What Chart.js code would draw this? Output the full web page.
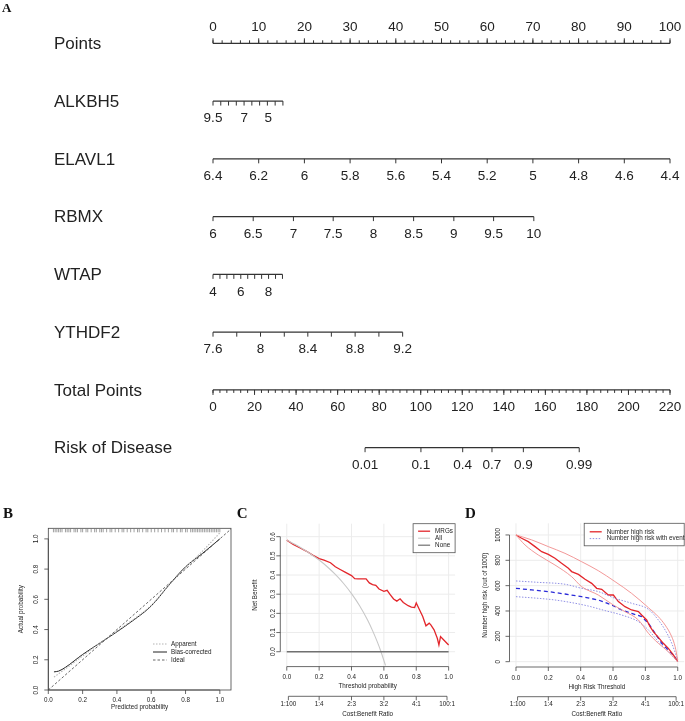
<!DOCTYPE html>
<html lang="en">
<head>
<meta charset="UTF-8">
<title>Nomogram, calibration, decision curve and clinical impact</title>
<script src="https://cdn.jsdelivr.net/npm/chart.js@4.4.0/dist/chart.umd.min.js"></script>
<style>
  body { margin: 0; background: #fff; }
  #wrap { position: relative; width: 685px; height: 721px; overflow: hidden; }
  #wrap canvas { position: absolute; }
</style>
</head>
<body>
<div id="wrap">
  <canvas id="nomo" width="685" height="480" style="left:0px;top:0px"></canvas>
  <canvas id="calib" width="232" height="241" style="left:0px;top:480px"></canvas>
  <canvas id="dca" width="226" height="241" style="left:232px;top:480px"></canvas>
  <canvas id="impact" width="227" height="241" style="left:458px;top:480px"></canvas>
</div>
<script>
// ---------- A: nomogram ----------
const rowNames = ['Points', 'ALKBH5', 'ELAVL1', 'RBMX', 'WTAP', 'YTHDF2', 'Total Points', 'Risk of Disease'];
const pointLabels = [0, 10, 20, 30, 40, 50, 60, 70, 80, 90, 100];
const alkbh5Labels = ['9.5', '7', '5'];
const alkbh5LabelPts = [0, 6.85, 12.1];
const alkbh5TickPts = [0, 1.7, 3.4, 5.1, 6.8, 8.5, 10.2, 11.9, 13.6, 15.3];
const elavl1Labels = ['6.4', '6.2', '6', '5.8', '5.6', '5.4', '5.2', '5', '4.8', '4.6', '4.4'];
const elavl1Pts = [0, 10, 20, 30, 40, 50, 60, 70, 80, 90, 100];
const rbmxLabels = ['6', '6.5', '7', '7.5', '8', '8.5', '9', '9.5', '10'];
const rbmxPts = [0, 8.8, 17.6, 26.3, 35.1, 43.9, 52.7, 61.4, 70.2];
const wtapLabels = ['4', '6', '8'];
const wtapLabelPts = [0, 6.08, 12.16];
const wtapTickPts = [0, 1.52, 3.04, 4.56, 6.08, 7.6, 9.12, 10.64, 12.16, 13.68, 15.2];
const ythdf2Labels = ['7.6', '8', '8.4', '8.8', '9.2'];
const ythdf2LabelPts = [0, 10.4, 20.75, 31.1, 41.5];
const ythdf2TickPts = [0, 5.2, 10.4, 15.6, 20.75, 25.9, 31.1, 36.3, 41.5];
const totalLabels = [0, 20, 40, 60, 80, 100, 120, 140, 160, 180, 200, 220];
const riskLabels = ['0.01', '0.1', '0.4', '0.7', '0.9', '0.99'];
const riskTotalPts = [73.2, 100.1, 120.2, 134.3, 149.4, 176.3];

// ---------- B: calibration ----------
const idealX = [0, 1.07];
const apparentX = [0.033, 0.1, 0.2, 0.3, 0.4, 0.5, 0.6, 0.7, 0.8, 0.9, 1.0];
const apparentY = [0.085, 0.14, 0.225, 0.31, 0.39, 0.47, 0.56, 0.69, 0.81, 0.92, 1.04];
const biasX = [0.033, 0.06, 0.1, 0.2, 0.3, 0.4, 0.5, 0.58, 0.62, 0.7, 0.8, 0.9, 1.0];
const biasY = [0.12, 0.125, 0.15, 0.235, 0.31, 0.385, 0.465, 0.535, 0.58, 0.69, 0.815, 0.905, 1.0];
const rugX = [0.03, 0.04, 0.05, 0.06, 0.07, 0.08, 0.1, 0.11, 0.12, 0.13, 0.15, 0.16, 0.17, 0.19, 0.2, 0.22,
  0.23, 0.25, 0.27, 0.28, 0.3, 0.31, 0.32, 0.34, 0.36, 0.37, 0.39, 0.41, 0.43, 0.44, 0.46, 0.48, 0.5,
  0.52, 0.53, 0.55, 0.57, 0.58, 0.6, 0.62, 0.64, 0.66, 0.68, 0.7, 0.72, 0.73, 0.75, 0.77, 0.78, 0.8,
  0.81, 0.83, 0.84, 0.85, 0.86, 0.87, 0.88, 0.89, 0.9, 0.91, 0.92, 0.93, 0.94, 0.95, 0.96, 0.97, 0.98, 0.99, 1.0];
const probTicks = [0, 0.2, 0.4, 0.6, 0.8, 1.0];
const probLabels = ['0.0', '0.2', '0.4', '0.6', '0.8', '1.0'];

// ---------- C: decision curve ----------
const dcaX = [0, 0.04, 0.08, 0.12, 0.16, 0.20, 0.23, 0.27, 0.30, 0.33, 0.36, 0.40, 0.42, 0.44, 0.49, 0.51,
  0.53, 0.55, 0.57, 0.60, 0.62, 0.64, 0.66, 0.68, 0.70, 0.72, 0.75, 0.77, 0.79, 0.80, 0.82, 0.84, 0.86,
  0.88, 0.89, 0.91, 0.93, 0.94, 0.95, 0.97, 1.00];
const mrgNB = [0.582, 0.560, 0.542, 0.525, 0.504, 0.486, 0.478, 0.464, 0.443, 0.429, 0.415, 0.397, 0.381,
  0.380, 0.380, 0.359, 0.350, 0.346, 0.327, 0.315, 0.320, 0.297, 0.275, 0.264, 0.276, 0.257, 0.240, 0.233,
  0.231, 0.254, 0.219, 0.184, 0.135, 0.149, 0.140, 0.114, 0.070, 0.035, 0.079, 0.061, 0.035];
const allX = [0, 0.05, 0.1, 0.15, 0.2, 0.25, 0.3, 0.35, 0.4, 0.45, 0.5, 0.53, 0.56, 0.58, 0.61];
const allNB = [0.582, 0.560, 0.536, 0.508, 0.478, 0.443, 0.403, 0.357, 0.303, 0.240, 0.164, 0.110, 0.050, 0.005, -0.072];
const noneX = [0, 1];
const noneNB = [0, 0];
const nbTicks = [0, 0.1, 0.2, 0.3, 0.4, 0.5, 0.6];
const nbLabels = ['0.0', '0.1', '0.2', '0.3', '0.4', '0.5', '0.6'];
const costLabels = ['1:100', '1:4', '2:3', '3:2', '4:1', '100:1'];
const costAt = [0.0099, 0.2, 0.4, 0.6, 0.8, 0.99];

// ---------- D: clinical impact ----------
const redX = [0, 0.035, 0.076, 0.118, 0.159, 0.2, 0.241, 0.282, 0.324, 0.344, 0.386, 0.427, 0.468, 0.499, 0.53,
  0.571, 0.602, 0.633, 0.674, 0.715, 0.757, 0.777, 0.808, 0.829, 0.849, 0.88, 0.911, 0.942, 0.973, 1];
const redY = [1000, 974, 947, 908, 868, 847, 816, 776, 737, 711, 689, 650, 618, 579, 571,
  526, 526, 474, 434, 408, 395, 368, 329, 276, 237, 192, 145, 105, 53, 0];
const redHiX = [0, 0.097, 0.2, 0.303, 0.406, 0.509, 0.612, 0.715, 0.819, 0.88, 0.922, 0.963, 0.984, 1];
const redHiY = [1000, 961, 908, 855, 789, 718, 632, 539, 426, 355, 289, 197, 118, 13];
const redLoX = [0, 0.056, 0.138, 0.241, 0.344, 0.406, 0.509, 0.602, 0.674, 0.757, 0.819, 0.88, 0.942, 1];
const redLoY = [1000, 921, 842, 763, 671, 592, 526, 447, 395, 329, 224, 145, 79, 0];
const blueX = [0, 0.097, 0.2, 0.303, 0.406, 0.509, 0.592, 0.654, 0.715, 0.777, 0.819, 0.86, 0.901, 0.942, 0.973, 1];
const blueY = [579, 566, 553, 534, 513, 487, 447, 408, 382, 355, 303, 224, 145, 92, 53, 0];
const blueHiX = [0, 0.138, 0.303, 0.406, 0.509, 0.612, 0.715, 0.819, 0.88, 0.922, 0.963, 1];
const blueHiY = [637, 626, 611, 579, 553, 500, 461, 413, 329, 250, 145, 13];
const blueLoX = [0, 0.138, 0.241, 0.344, 0.447, 0.551, 0.654, 0.757, 0.819, 0.88, 0.942, 1];
const blueLoY = [513, 500, 487, 466, 439, 403, 368, 316, 250, 158, 79, 0];
const countTicks = [0, 200, 400, 600, 800, 1000];

// ---------- helpers ----------
const SANS = '"Liberation Sans", Arial, Helvetica, sans-serif';
const SERIF = '"Liberation Serif", "Times New Roman", serif';
const SMALL = 6.3;

function pts(xs, ys) { return xs.map((x, i) => ({ x: x, y: ys[i] })); }

function text(ctx, s, x, y, size, align, rot, font) {
  ctx.save();
  ctx.font = size + 'px ' + (font || SANS);
  ctx.fillStyle = '#222';
  ctx.textAlign = align || 'center';
  ctx.textBaseline = 'middle';
  ctx.translate(x, y);
  if (rot) ctx.rotate(rot);
  ctx.fillText(s, 0, 0);
  ctx.restore();
}

function panelLetter(ctx, s, x, y, size) {
  ctx.save();
  ctx.font = 'bold ' + size + 'px ' + SERIF;
  ctx.fillStyle = '#111';
  ctx.textBaseline = 'alphabetic';
  ctx.fillText(s, x, y);
  ctx.restore();
}

function bottomAxis(ctx, sc, y, at, labels, labelDy) {
  ctx.save();
  ctx.strokeStyle = '#444';
  ctx.lineWidth = 0.8;
  ctx.beginPath();
  ctx.moveTo(sc.getPixelForValue(at[0]), y);
  ctx.lineTo(sc.getPixelForValue(at[at.length - 1]), y);
  at.forEach(v => {
    const px = sc.getPixelForValue(v);
    ctx.moveTo(px, y);
    ctx.lineTo(px, y + 4);
  });
  ctx.stroke();
  ctx.restore();
  at.forEach((v, i) => text(ctx, labels[i], sc.getPixelForValue(v), y + labelDy, SMALL));
}

function leftAxis(ctx, sc, x, at, labels, labelDx) {
  ctx.save();
  ctx.strokeStyle = '#444';
  ctx.lineWidth = 0.8;
  ctx.beginPath();
  ctx.moveTo(x, sc.getPixelForValue(at[0]));
  ctx.lineTo(x, sc.getPixelForValue(at[at.length - 1]));
  at.forEach(v => {
    const py = sc.getPixelForValue(v);
    ctx.moveTo(x, py);
    ctx.lineTo(x - 4, py);
  });
  ctx.stroke();
  ctx.restore();
  at.forEach((v, i) => text(ctx, labels[i], x - labelDx, sc.getPixelForValue(v), SMALL, 'center', -Math.PI / 2));
}

function grid(ctx, chart, gx, gy) {
  const a = chart.chartArea, sx = chart.scales.x, sy = chart.scales.y;
  ctx.save();
  ctx.strokeStyle = '#ececec';
  ctx.lineWidth = 1;
  ctx.beginPath();
  gx.forEach(v => { const px = sx.getPixelForValue(v); ctx.moveTo(px, a.top); ctx.lineTo(px, a.bottom); });
  gy.forEach(v => { const py = sy.getPixelForValue(v); ctx.moveTo(a.left, py); ctx.lineTo(a.right, py); });
  ctx.stroke();
  ctx.restore();
}

function legend(ctx, box, items, lx0, lx1, tx, y0, dy, frame) {
  ctx.save();
  if (frame) {
    ctx.fillStyle = '#fff';
    ctx.fillRect(box[0], box[1], box[2], box[3]);
    ctx.strokeStyle = '#555';
    ctx.lineWidth = 0.8;
    ctx.strokeRect(box[0], box[1], box[2], box[3]);
  }
  items.forEach((it, i) => {
    const y = y0 + i * dy;
    ctx.strokeStyle = it.color;
    ctx.lineWidth = it.width;
    ctx.setLineDash(it.dash || []);
    ctx.beginPath();
    ctx.moveTo(lx0, y);
    ctx.lineTo(lx1, y);
    ctx.stroke();
    ctx.setLineDash([]);
    text(ctx, it.label, tx, y, SMALL, 'left');
  });
  ctx.restore();
}

function costAxis(ctx, chart) {
  const a = chart.chartArea, sx = chart.scales.x;
  bottomAxis(ctx, sx, a.bottom + 29.7, costAt, costLabels, 7.8);
  text(ctx, 'Cost:Benefit Ratio', (a.left + a.right) / 2, a.bottom + 47.5, SMALL);
}

const baseOptions = (pad, xr, yr) => ({
  responsive: false,
  animation: false,
  events: [],
  layout: { padding: pad },
  plugins: { legend: { display: false }, tooltip: { enabled: false } },
  scales: {
    x: { type: 'linear', display: false, min: xr[0], max: xr[1] },
    y: { type: 'linear', display: false, min: yr[0], max: yr[1] }
  }
});

const lineSet = (data, color, width, dash, smooth) => ({
  data: data, showLine: true, borderColor: color, borderWidth: width, borderDash: dash || [],
  pointRadius: 0, fill: false, cubicInterpolationMode: smooth ? 'monotone' : 'default', tension: 0
});

// ---------- A: build nomogram rows ----------
const pointMinor = [];
for (let i = 0; i <= 50; i++) pointMinor.push(i * 2);
const totalMinor = [];
for (let i = 0; i <= 66; i++) totalMinor.push(i * 20 / 6);

const rows = [
  { scale: 'x', line: [0, 100], minor: pointMinor, ticks: pointLabels, labels: pointLabels.map(String), at: pointLabels, up: true },
  { scale: 'x', line: [0, 15.3], ticks: alkbh5TickPts, labels: alkbh5Labels, at: alkbh5LabelPts },
  { scale: 'x', line: [0, 100], ticks: elavl1Pts, labels: elavl1Labels, at: elavl1Pts },
  { scale: 'x', line: [0, 70.2], ticks: rbmxPts, labels: rbmxLabels, at: rbmxPts },
  { scale: 'x', line: [0, 15.2], ticks: wtapTickPts, labels: wtapLabels, at: wtapLabelPts },
  { scale: 'x', line: [0, 41.5], ticks: ythdf2TickPts, labels: ythdf2Labels, at: ythdf2LabelPts },
  { scale: 'x2', line: [0, 220], minor: totalMinor, ticks: totalLabels, labels: totalLabels.map(String), at: totalLabels },
  { scale: 'x2', line: [riskTotalPts[0], riskTotalPts[riskTotalPts.length - 1]], ticks: riskTotalPts, labels: riskLabels, at: riskTotalPts }
];

const nomoOpts = baseOptions({ left: 213, right: 15, top: 43.3, bottom: 32.3 }, [0, 100], [0, 7]);
nomoOpts.scales.y.reverse = true;
nomoOpts.scales.x2 = { type: 'linear', axis: 'x', position: 'bottom', display: false, min: 0, max: 220 };

new Chart(document.getElementById('nomo'), {
  type: 'scatter',
  data: {
    datasets: rows.map((r, i) => Object.assign(
      lineSet([{ x: r.line[0], y: i }, { x: r.line[1], y: i }], '#333', 1.2),
      { xAxisID: r.scale, yAxisID: 'y', clip: false }))
  },
  options: nomoOpts,
  plugins: [{
    id: 'nomoAxes',
    afterDatasetsDraw(chart) {
      const ctx = chart.ctx, ys = chart.scales.y;
      panelLetter(ctx, 'A', 2, 12, 13);
      rows.forEach((r, i) => {
        const sc = chart.scales[r.scale];
        const py = ys.getPixelForValue(i);
        const dir = r.up ? -1 : 1;
        ctx.save();
        ctx.strokeStyle = '#333';
        ctx.lineWidth = 1;
        ctx.beginPath();
        (r.minor || []).forEach(v => {
          const px = sc.getPixelForValue(v);
          ctx.moveTo(px, py);
          ctx.lineTo(px, py + dir * 3);
        });
        r.ticks.forEach(v => {
          const px = sc.getPixelForValue(v);
          ctx.moveTo(px, py);
          ctx.lineTo(px, py + dir * (r.minor ? 5 : 4.5));
        });
        ctx.stroke();
        ctx.restore();
        r.at.forEach((v, k) => text(ctx, r.labels[k], sc.getPixelForValue(v), py + (r.up ? -16 : 17.5), 13.5));
        text(ctx, rowNames[i], 54, py + 1, 17, 'left');
      });
    }
  }]
});

// ---------- B: calibration curve ----------
new Chart(document.getElementById('calib'), {
  type: 'scatter',
  data: {
    datasets: [
      lineSet(pts(idealX, idealX), '#555', 0.9, [2.5, 2]),
      lineSet(pts(apparentX, apparentY), '#b4b4b4', 1.1, [1.5, 1.5], true),
      lineSet(pts(biasX, biasY), '#222', 1, [], true)
    ]
  },
  options: baseOptions({ left: 48.3, right: 1, top: 48.3, bottom: 31 }, [0, 1.065], [0, 1.07]),
  plugins: [{
    id: 'calibAxes',
    afterDraw(chart) {
      const ctx = chart.ctx, a = chart.chartArea, sx = chart.scales.x, sy = chart.scales.y;
      panelLetter(ctx, 'B', 3, 38, 15);
      ctx.save();
      ctx.strokeStyle = '#444';
      ctx.lineWidth = 0.8;
      ctx.strokeRect(a.left, a.top, a.right - a.left, a.bottom - a.top);
      ctx.strokeStyle = '#777';
      ctx.lineWidth = 0.7;
      ctx.beginPath();
      rugX.forEach(v => {
        const px = sx.getPixelForValue(v);
        ctx.moveTo(px, a.top);
        ctx.lineTo(px, a.top + 4);
      });
      ctx.stroke();
      ctx.restore();
      bottomAxis(ctx, sx, a.bottom, probTicks, probLabels, 10);
      leftAxis(ctx, sy, a.left, probTicks, probLabels, 12.3);
      text(ctx, 'Predicted probability', (a.left + a.right) / 2, a.bottom + 17.7, SMALL);
      text(ctx, 'Actual probability', 21, (a.top + a.bottom) / 2, SMALL, 'center', -Math.PI / 2);
      legend(ctx, null, [
        { label: 'Apparent', color: '#b4b4b4', width: 1.1, dash: [1.5, 1.5] },
        { label: 'Bias-corrected', color: '#222', width: 1 },
        { label: 'Ideal', color: '#555', width: 0.9, dash: [2.5, 2] }
      ], 153, 167, 171, 164, 8, false);
    }
  }]
});

// ---------- C: decision curve ----------
new Chart(document.getElementById('dca'), {
  type: 'scatter',
  data: {
    datasets: [
      lineSet(pts(noneX, noneNB), '#707070', 1.4),
      lineSet(pts(allX, allNB), '#c8c8c8', 1.1, [], true),
      lineSet(pts(dcaX, mrgNB), '#e3262b', 1.3)
    ]
  },
  options: baseOptions({ left: 48.3, right: 2.9, top: 43.7, bottom: 54.4 }, [-0.04, 1.04], [-0.0776, 0.6676]),
  plugins: [{
    id: 'dcaAxes',
    beforeDatasetsDraw(chart) { grid(chart.ctx, chart, probTicks, nbTicks); },
    afterDraw(chart) {
      const ctx = chart.ctx, a = chart.chartArea, sx = chart.scales.x, sy = chart.scales.y;
      panelLetter(ctx, 'C', 4.7, 38, 15);
      bottomAxis(ctx, sx, a.bottom, probTicks, probLabels, 11);
      leftAxis(ctx, sy, a.left, nbTicks, nbLabels, 7.5);
      text(ctx, 'Threshold probability', (a.left + a.right) / 2, a.bottom + 20, SMALL);
      text(ctx, 'Net Benefit', 23, (a.top + a.bottom) / 2, SMALL, 'center', -Math.PI / 2);
      costAxis(ctx, chart);
      const bx = a.right - 42, by = a.top;
      legend(ctx, [bx, by, 42, 29], [
        { label: 'MRGs', color: '#e3262b', width: 1.3 },
        { label: 'All', color: '#c8c8c8', width: 1.1 },
        { label: 'None', color: '#707070', width: 1.2 }
      ], bx + 5, bx + 17, bx + 22, by + 7.5, 7, true);
    }
  }]
});

// ---------- D: clinical impact curve ----------
new Chart(document.getElementById('impact'), {
  type: 'scatter',
  data: {
    datasets: [
      lineSet(pts(redHiX, redHiY), '#f08c8c', 0.9, [], true),
      lineSet(pts(redLoX, redLoY), '#f08c8c', 0.9, [], true),
      lineSet(pts(blueHiX, blueHiY), '#9090e4', 1, [1.5, 1.5], true),
      lineSet(pts(blueLoX, blueLoY), '#9090e4', 1, [1.5, 1.5], true),
      lineSet(pts(redX, redY), '#e3262b', 1.3),
      lineSet(pts(blueX, blueY), '#2a2ad8', 1.3, [4, 3])
    ]
  },
  options: baseOptions({ left: 51.5, right: 0.8, top: 43.3, bottom: 54 }, [-0.04, 1.04], [-42, 1092]),
  plugins: [{
    id: 'impactAxes',
    beforeDatasetsDraw(chart) { grid(chart.ctx, chart, probTicks, countTicks); },
    afterDraw(chart) {
      const ctx = chart.ctx, a = chart.chartArea, sx = chart.scales.x, sy = chart.scales.y;
      panelLetter(ctx, 'D', 7, 38, 15);
      bottomAxis(ctx, sx, a.bottom, probTicks, probLabels, 11);
      leftAxis(ctx, sy, a.left, countTicks, countTicks.map(String), 11.5);
      text(ctx, 'High Risk Threshold', (a.left + a.right) / 2, a.bottom + 20, SMALL);
      text(ctx, 'Number high risk (out of 1000)', 27, (a.top + a.bottom) / 2, SMALL, 'center', -Math.PI / 2);
      costAxis(ctx, chart);
      const bx = a.right - 100, by = a.top;
      legend(ctx, [bx, by, 100, 22.5], [
        { label: 'Number high risk', color: '#e3262b', width: 1.3 },
        { label: 'Number high risk with event', color: '#9090e4', width: 1, dash: [1.5, 1.5] }
      ], bx + 5.5, bx + 17.5, bx + 22.5, by + 8.5, 6.8, true);
    }
  }]
});
</script>
</body>
</html>
